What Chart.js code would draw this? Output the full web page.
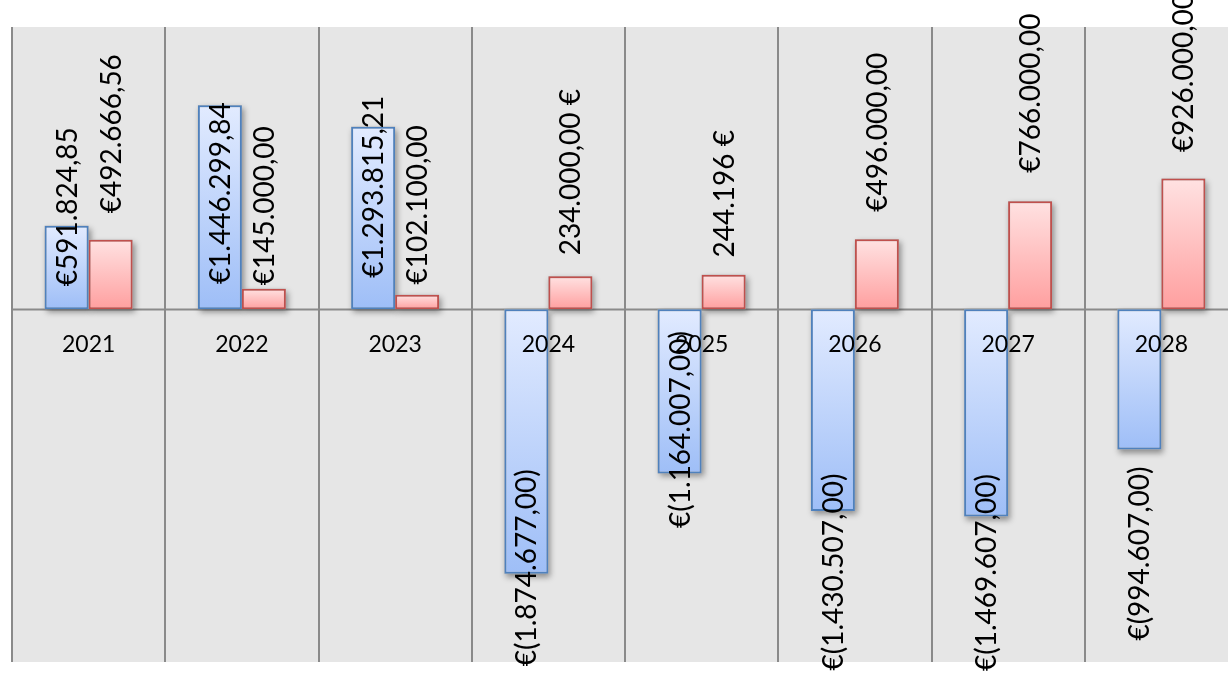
<!DOCTYPE html>
<html>
<head>
<meta charset="utf-8">
<title>Cash flow by year</title>
<script src="https://cdn.jsdelivr.net/npm/chart.js@4.4.1/dist/chart.umd.min.js"></script>
<style>
    html, body { margin: 0; padding: 0; background: #ffffff; overflow: hidden; }
</style>
</head>
<body>
<canvas id="cashflow-chart" width="1240" height="678"></canvas>
<script>
// Years on the category axis
const years = ['2021', '2022', '2023', '2024', '2025', '2026', '2027', '2028'];

// Series values in euro
const blueValues = [591824.85, 1446299.84, 1293815.21, -1874677, -1164007, -1430507, -1469607, -994607];
const redValues = [492666.56, 145000, 102100, 234000, 244196, 496000, 766000, 926000];

// How each value label is written: 'pre' = €1.234,00, 'post' = 1.234,00 €, 'postInt' = 1.234 €
const blueFormats = ['pre', 'pre', 'pre', 'pre', 'pre', 'pre', 'pre', 'pre'];
const redFormats = ['pre', 'pre', 'pre', 'post', 'postInt', 'pre', 'pre', 'pre'];

// Label nudges (px) from the bar end to the centre of the rotated text
const blueLabelShift = [-19, 88, 60, -6, -44, 61, 56, 104];
const redLabelShift = [-106, -83, -90, -104, -81, -107, -108, -106];

// Euro formatting with dot thousands and comma decimals
function formatEuro(value, style) {
    const abs = Math.abs(value);
    const digits = style === 'postInt' ? 0 : 2;
    let num = abs.toFixed(digits);
    let [intPart, decPart] = num.split('.');
    intPart = intPart.replace(/\B(?=(\d{3})+(?!\d))/g, '.');
    num = decPart ? intPart + ',' + decPart : intPart;
    if (value < 0) {
        return '€(' + num + ')';
    }
    if (style === 'post' || style === 'postInt') {
        return num + ' €';
    }
    return '€' + num;
}

// Vertical gradient that runs over the height of each bar
function barGradient(topColor, bottomColor) {
    return function (context) {
        const chart = context.chart;
        const yScale = chart.scales.y;
        if (!chart.chartArea || !yScale || context.dataIndex === undefined) {
            return bottomColor;
        }
        const value = context.dataset.data[context.dataIndex];
        const yValue = yScale.getPixelForValue(value);
        const yZero = yScale.getPixelForValue(0);
        const top = Math.min(yValue, yZero);
        const bottom = Math.max(yValue, yZero);
        const grad = chart.ctx.createLinearGradient(0, top, 0, bottom + 0.01);
        grad.addColorStop(0, topColor);
        grad.addColorStop(1, bottomColor);
        return grad;
    };
}

// Grey plot background, zero line and bar shadows
const plotBackground = {
    id: 'plotBackground',
    beforeDraw(chart) {
        const { ctx, chartArea } = chart;
        ctx.save();
        ctx.fillStyle = '#e6e6e6';
        ctx.fillRect(chartArea.left, chartArea.top, chartArea.right - chartArea.left, chartArea.bottom - chartArea.top);
        ctx.restore();
    },
    beforeDatasetsDraw(chart) {
        const { ctx, chartArea } = chart;
        const y0 = Math.round(chart.scales.y.getPixelForValue(0)) + 0.5;
        ctx.save();
        ctx.strokeStyle = '#8a8a8a';
        ctx.lineWidth = 2;
        ctx.beginPath();
        ctx.moveTo(chartArea.left, y0);
        ctx.lineTo(chartArea.right, y0);
        ctx.stroke();

        // soft drop shadow under every bar, the bars are painted over it
        ctx.shadowColor = 'rgba(0, 0, 0, 0.4)';
        ctx.shadowBlur = 6;
        ctx.shadowOffsetX = 2;
        ctx.shadowOffsetY = 3;
        ctx.fillStyle = '#bbbbbb';
        chart.data.datasets.forEach((dataset, d) => {
            chart.getDatasetMeta(d).data.forEach(bar => {
                const top = Math.min(bar.y, bar.base);
                const h = Math.abs(bar.base - bar.y);
                ctx.fillRect(bar.x - bar.width / 2, top, bar.width, h);
            });
        });
        ctx.restore();
    }
};

// Year names just under the zero line and the rotated value labels
const barLabels = {
    id: 'barLabels',
    afterDatasetsDraw(chart) {
        const ctx = chart.ctx;
        const xScale = chart.scales.x;
        const y0 = chart.scales.y.getPixelForValue(0);

        ctx.save();
        ctx.fillStyle = '#000000';
        ctx.font = '23px Lato';
        ctx.textAlign = 'center';
        ctx.textBaseline = 'middle';
        years.forEach((year, i) => {
            ctx.fillText(year, xScale.getPixelForValue(i), y0 + 35);
        });

        const shifts = [blueLabelShift, redLabelShift];
        const formats = [blueFormats, redFormats];
        ctx.font = '28px Lato';
        chart.data.datasets.forEach((dataset, d) => {
            const meta = chart.getDatasetMeta(d);
            meta.data.forEach((bar, i) => {
                const text = formatEuro(dataset.data[i], formats[d][i]);
                ctx.save();
                ctx.translate(bar.x + 1, bar.y + shifts[d][i]);
                ctx.rotate(-Math.PI / 2);
                ctx.fillText(text, 0, 0);
                ctx.restore();
            });
        });
        ctx.restore();
    }
};

const ctx = document.getElementById('cashflow-chart').getContext('2d');
const myChart = new Chart(ctx, {
    type: 'bar',
    data: {
        labels: years,
        datasets: [
            {
                label: 'Blue',
                data: blueValues,
                backgroundColor: barGradient('#e2ebff', '#9ebef7'),
                borderColor: '#4f81bd',
                borderWidth: 2,
                borderSkipped: false,
                categoryPercentage: 0.574,
                barPercentage: 1.0,
            },
            {
                label: 'Red',
                data: redValues,
                backgroundColor: barGradient('#ffe2e2', '#ff9f9f'),
                borderColor: '#c0504d',
                borderWidth: 2,
                borderSkipped: false,
                categoryPercentage: 0.574,
                barPercentage: 1.0,
            },
        ],
    },
    options: {
        responsive: false,
        animation: false,
        layout: {
            padding: { left: 12, top: 27, right: 2, bottom: 16 },
        },
        plugins: {
            legend: { display: false },
            tooltip: { enabled: false },
        },
        scales: {
            x: {
                grid: {
                    offset: true,
                    color: '#8a8a8a',
                    lineWidth: 2,
                    drawTicks: false,
                },
                border: { display: false },
                ticks: { display: false },
            },
            y: {
                display: false,
                min: -2500000,
                max: 2000000,
            },
        },
    },
    plugins: [plotBackground, barLabels],
});
</script>
</body>
</html>
